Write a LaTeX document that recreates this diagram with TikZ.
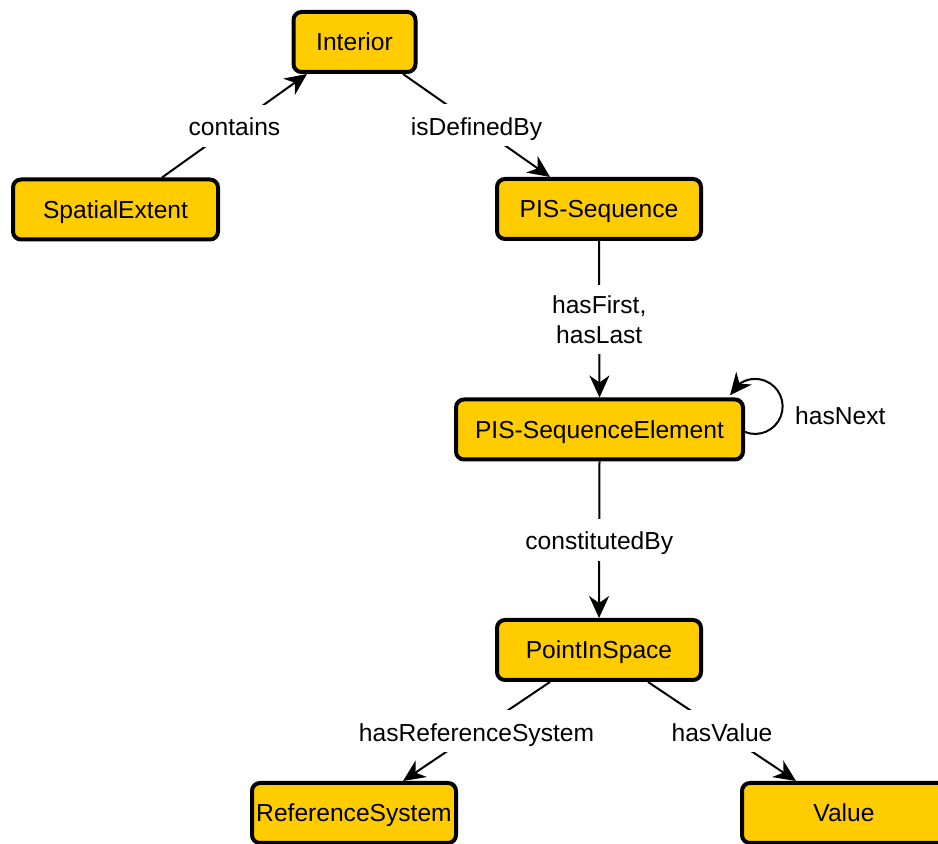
\documentclass[tikz,border=0pt]{standalone}
\usepackage{fontspec}
\setmainfont{Liberation Sans}
\usetikzlibrary{arrows.meta,bending}
\definecolor{boxfill}{RGB}{255,204,0}
\newcommand{\lblfont}{\fontsize{24.6pt}{30pt}\selectfont}
\begin{document}
\begin{tikzpicture}[x=1pt,y=1pt,
  concept/.style={draw=black, line width=4pt, fill=boxfill, rounded corners=8pt,
    minimum width=204pt, minimum height=60pt, inner sep=0pt,
    font=\lblfont, text height=18pt, text depth=0pt},
  rel/.style={draw=black, line width=2pt,
    -{Stealth[length=22pt, width=20pt, inset=7pt]}},
  looprel/.style={draw=black, line width=2pt,
    -{Stealth[length=22pt, width=20pt, inset=7pt, flex]}},
  lbl/.style={fill=white, inner xsep=4pt, inner ysep=6pt,
    text height=25pt, text depth=5pt, font=\lblfont},
  lbltwo/.style={fill=white, inner xsep=4pt, inner ysep=10.5pt,
    align=center, font=\lblfont},
]
\useasboundingbox (0,0) rectangle (938,844);

% concepts
\node[concept, minimum width=122pt] (int) at (354.5,802) {Interior};
\node[concept, minimum width=205pt] (se)  at (115.5,634.5) {SpatialExtent};
\node[concept] (seq) at (599,635) {PIS-Sequence};
\node[concept, minimum width=287pt] (pse) at (599.5,414.5) {PIS-SequenceElement};
\node[concept] (pis) at (599,194) {PointInSpace};
\node[concept] (ref) at (354,31) {ReferenceSystem};
\node[concept] (val) at (844,31) {Value};

% relations
\draw[rel] ([xshift=46.5pt]se.north) -- node[lbl] {contains} ([xshift=-47.5pt]int.south);
\draw[rel] ([xshift=48.5pt]int.south) -- node[lbl] {isDefinedBy} ([xshift=-49pt]seq.north);
\draw[rel] (seq.south) -- node[lbltwo] {hasFirst,\\hasLast} (pse.north);
\draw[rel] (pse.south) -- node[lbl] {constitutedBy} (pis.north);
\draw[rel] ([xshift=-49pt]pis.south) -- node[lbl] {hasReferenceSystem} ([xshift=49pt]ref.north);
\draw[rel] ([xshift=49pt]pis.south) -- node[lbl] {hasValue} ([xshift=-48pt]val.north);

% self loop
\draw[looprel] ([yshift=-2.5pt]pse.east) arc[start angle=-111.6, end angle=156, radius=27.5];
\node[font=\lblfont, inner sep=0pt, anchor=base west] (nextlbl) at (795,419) {hasNext};
\end{tikzpicture}
\end{document}
